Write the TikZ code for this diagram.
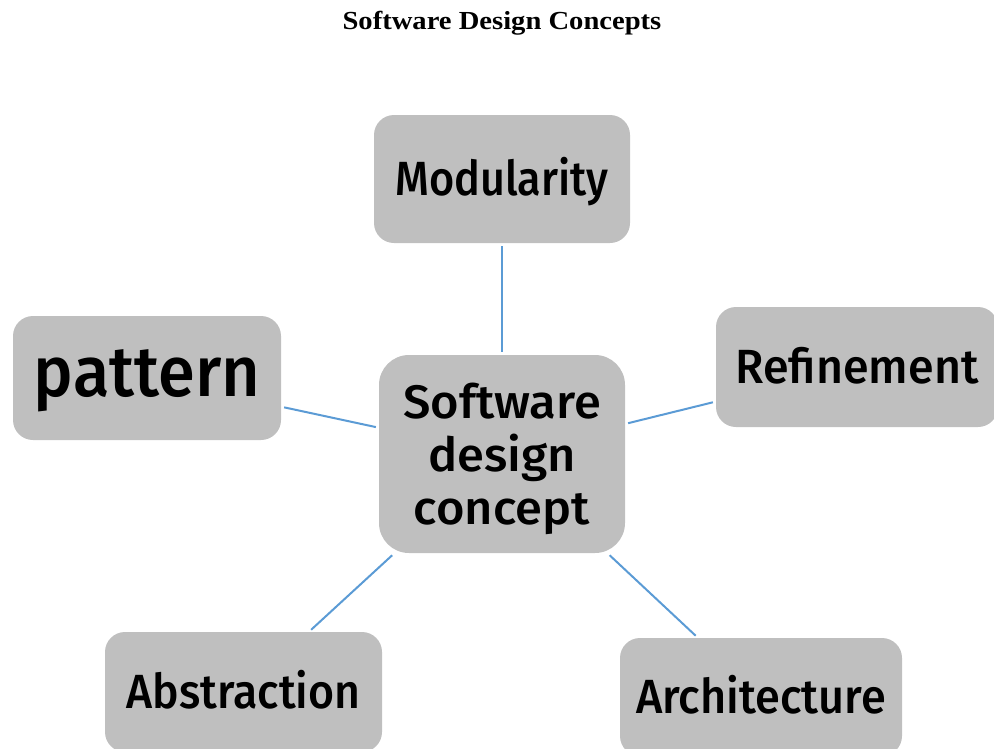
\documentclass[tikz,border=0pt]{standalone}
\usepackage{fontspec}
\usepackage{graphicx}
\setmainfont{Fira Sans}[UprightFont=* Medium]
\newfontfamily\titlefont{Liberation Serif}[FakeStretch=1.1]
\newcommand\hs[2]{\scalebox{#1}[1]{#2}}
\begin{document}
\begin{tikzpicture}[x=1pt,y=-1pt,
  box/.style={fill=boxgrey, draw=none, rounded corners=20pt, inner sep=0pt,
    font=\fontsize{48}{53}\selectfont, text height=33pt, text depth=0pt},
  link/.style={draw=linkblue, line width=2pt, shorten <=3pt, shorten >=3pt}]
\definecolor{boxgrey}{HTML}{BFBFBF}
\definecolor{linkblue}{HTML}{5B9BD5}
\clip (0,0) rectangle (994,748);
\node[font=\titlefont\bfseries\fontsize{26}{30}\selectfont, anchor=base] (title) at (502,29) {Software Design Concepts};
\node[box, minimum width=246pt, minimum height=198pt, rounded corners=30pt, align=center,
  text height=, text depth=0pt, font=\fontsize{47}{53}\selectfont] (c) at (502,454) {\hs{1.04}{Software}\\\hs{1.04}{design}\\\hs{1.04}{concept}};
\node[box, minimum width=256pt, minimum height=128pt] (m) at (502,179) {\hs{0.9}{Modularity}};
\node[box, minimum width=268pt, minimum height=124pt, font=\fontsize{71}{80}\selectfont, text height=37pt] (p) at (147,378) {\hs{0.94}{pattern}};
\node[box, minimum width=282pt, minimum height=120pt] (r) at (857,367) {\hs{0.97}{Refinement}};
\node[box, minimum width=277pt, minimum height=120pt] (a) at (243.5,692) {\hs{0.93}{Abstraction}};
\node[box, minimum width=282pt, minimum height=118pt] (ar) at (761,697) {\hs{0.94}{Architecture}};
\draw[link] (m) -- (c);
\draw[link] (p) -- (c);
\draw[link] (r) -- (c);
\draw[link] (a) -- (c);
\draw[link] (ar) -- (c);
\end{tikzpicture}
\end{document}
